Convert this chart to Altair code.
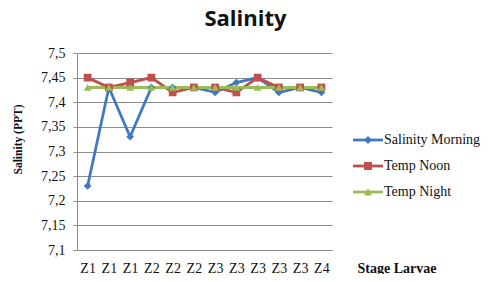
import altair as alt
import pandas as pd

stages = ["Z1", "Z1", "Z1", "Z2", "Z2", "Z2", "Z3", "Z3", "Z3", "Z3", "Z3", "Z4"]
series_names = ["Salinity Morning", "Temp Noon", "Temp Night"]
salinity_morning = [7.23, 7.43, 7.33, 7.43, 7.43, 7.43, 7.42, 7.44, 7.45, 7.42, 7.43, 7.42]
temp_noon = [7.45, 7.43, 7.44, 7.45, 7.42, 7.43, 7.43, 7.42, 7.45, 7.43, 7.43, 7.43]
temp_night = [7.43, 7.43, 7.43, 7.43, 7.43, 7.43, 7.43, 7.43, 7.43, 7.43, 7.43, 7.43]
y_ticks = [7.1, 7.15, 7.2, 7.25, 7.3, 7.35, 7.4, 7.45, 7.5]
colors = ["#4178C6", "#C0504D", "#9BBB59"]

line_keys = [n + " (line)" for n in series_names]

rows = []
for name, key, vals in zip(series_names, line_keys, [salinity_morning, temp_noon, temp_night]):
    for i, v in enumerate(vals):
        rows.append({"idx": i, "series": name, "series_line": key, "value": v})
df = pd.DataFrame(rows)

serif = "Liberation Serif"
label_expr = "[" + ",".join("'%s'" % s for s in stages) + "][datum.value]"

x_enc = alt.X(
    "idx:O",
    scale=alt.Scale(padding=0.5),
    axis=alt.Axis(
        title="Stage Larvae",
        labelExpr=label_expr,
        labelAngle=0,
        ticks=False,
        tickSize=0,
        labelPadding=11,
        labelFont=serif,
        labelFontSize=14,
        labelColor="#111111",
        domainColor="#8c8c8c",
        grid=False,
        titleFont=serif,
        titleFontSize=14,
        titleFontWeight="bold",
        titleColor="#111111",
        titleX=280,
        titleY=18,
        titleAlign="left",
        titleBaseline="middle",
    ),
)
y_enc = alt.Y(
    "value:Q",
    scale=alt.Scale(domain=[7.1, 7.5], nice=False, zero=False),
    axis=alt.Axis(
        title="Salinity (PPT)",
        values=y_ticks,
        labelExpr="replace(format(datum.value, '.2~f'), '.', ',')",
        labelFont=serif,
        labelFontSize=14,
        labelColor="#111111",
        labelPadding=8,
        tickSize=4,
        tickColor="#8c8c8c",
        domainColor="#8c8c8c",
        gridColor="#8c8c8c",
        gridWidth=1,
        titleFont=serif,
        titleFontSize=11.5,
        titleFontWeight="bold",
        titleColor="#111111",
        titleX=-54,
        titleY=86,
        titleAlign="center",
    ),
)

legend_common = dict(
    title=None,
    orient="none",
    legendX=284,
    legendY=80,
    padding=0,
    symbolSize=64,
    labelOffset=9,
    labelFont=serif,
    labelFontSize=14,
    rowPadding=12,
)

lines = alt.Chart(df).mark_line(strokeWidth=2.8).encode(
    x=x_enc,
    y=y_enc,
    stroke=alt.Stroke(
        "series_line:N",
        scale=alt.Scale(domain=line_keys, range=colors),
        legend=alt.Legend(
            symbolType="M-3.75,0L3.75,0",
            symbolStrokeWidth=2.8,
            labelExpr="' '",
            labelColor="transparent",
            **legend_common,
        ),
    ),
)

marker_legend = alt.Legend(labelColor="#111111", **legend_common)

points = alt.Chart(df).mark_point(filled=True, opacity=1, size=60).encode(
    x=x_enc,
    y=y_enc,
    color=alt.Color(
        "series:N",
        scale=alt.Scale(domain=series_names, range=colors),
        legend=marker_legend,
    ),
    shape=alt.Shape(
        "series:N",
        scale=alt.Scale(domain=series_names, range=["diamond", "square", "triangle-up"]),
        legend=marker_legend,
    ),
)

chart = (
    alt.layer(lines, points)
    .properties(
        width=255,
        height=197,
        autosize=alt.AutoSizeParams(type="none"),
        padding={"left": 69, "top": 45, "right": 152, "bottom": 24},
        title=alt.TitleParams(
            "Salinity",
            font="Open Sans",
            fontSize=22,
            fontWeight="bold",
            color="#111111",
            anchor="middle",
            dx=41,
            offset=15,
        ),
    )
    .configure_view(stroke=None)
)

chart.save("out.html", embed_options={"renderer": "svg", "actions": False})
